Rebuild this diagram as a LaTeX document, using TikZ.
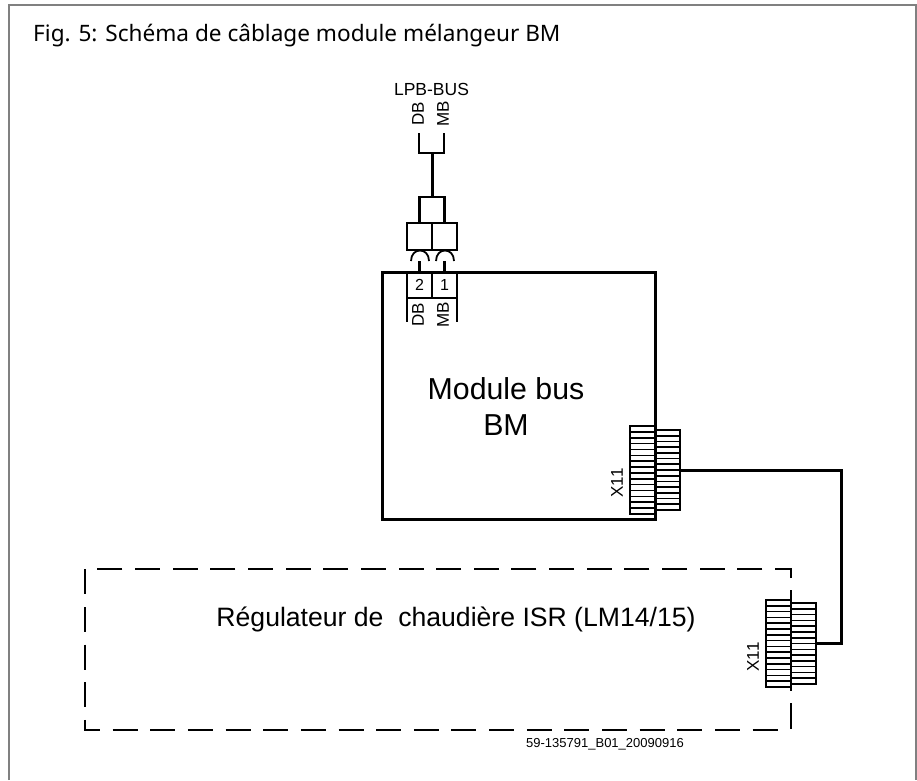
\documentclass[tikz,border=0pt]{standalone}
\usepackage{fontspec}
\setmainfont{Liberation Sans}
\newfontfamily\titlefont{Noto Sans}
\usetikzlibrary{calc}
\usetikzlibrary{positioning}
\tikzset{
  wire/.style={line width=3pt},
  boxed/.style={draw,line width=2.2pt,inner sep=0pt,outer sep=0pt},
  pinbox/.style={boxed,minimum width=25pt,minimum height=26pt},
  stripblock/.style={draw,line width=1.8pt,inner sep=0pt,outer sep=0pt,minimum width=25pt},
  labelsmall/.style={inner sep=0pt,font=\fontsize{17}{17}\selectfont},
}
\newcommand{\stripes}[2]{
  \foreach \i in {1,...,#2} {
    \draw[line width=1.6pt] ($(#1.north west)!\i/#2!(#1.south west)$) -- ($(#1.north east)!\i/#2!(#1.south east)$);
  }
}
\begin{document}
\begin{tikzpicture}[x=1pt,y=-1pt]
      \useasboundingbox (0,0) rectangle (917,780);
      \fill[white] (0,0) rectangle (917,780);
      % open frame
      \coordinate (framesw) at (9,780);
      \coordinate (framene) at (916,5);
      \coordinate (framese) at (916,780);
      \draw[black!50,line width=1.5pt] (framesw) |- (framene) -- (framese);
      \node (title) [anchor=base west,inner sep=0pt,font=\titlefont\fontsize{22.6}{22}\selectfont] at (33,41.5) {Fig. 5: Schéma de câblage module mélangeur BM};

      % X11 on the module
      \node (xa) [stripblock,minimum height=88pt,anchor=north east] at (655,426) {};
      \node (xb) [stripblock,minimum height=80pt,anchor=north west] at (655,430) {};
      \stripes{xa}{15}
      \stripes{xb}{14}
      \node (xalabel) [labelsmall,rotate=90] at (617,483) {X11};

      % module
      \node (module) [draw,line width=3pt,inner sep=0pt,minimum width=273pt,minimum height=247pt] at (518.5,395.5) {};
      \node (modulename) [align=center,font=\fontsize{30.3}{36}\selectfont,inner sep=0pt] at (506,407) {Module bus\\BM};

      % terminals in the module
      \node (pin2) [pinbox,anchor=north east] at (432,272) {\fontsize{16}{16}\selectfont 2};
      \node (pin1) [pinbox,right=0pt of pin2] {\fontsize{16}{16}\selectfont 1};
      \node (pindb) [labelsmall,rotate=90] at (418,315) {DB};
      \node (pinmb) [labelsmall,rotate=90] at (443,315) {MB};
      \coordinate (pin2end) at ($(pin2.south west)+(0,24)$);
      \coordinate (pin1end) at ($(pin1.south east)+(0,24)$);
      \draw[boxed] (pin2.south west) -- (pin2end);
      \draw[boxed] (pin1.south east) -- (pin1end);

      % plug
      \node (plug2) [pinbox,minimum height=27pt] at (419.5,236.5) {};
      \node (plug1) [pinbox,minimum height=27pt,right=0pt of plug2] {};
      \node (cap) [boxed,minimum width=25pt,minimum height=26pt] at (432,210) {};
      \draw[line width=1.8pt] (411,261) .. controls (411,247) and (429,247) .. (429,261);
      \draw[line width=1.8pt] (436,261) .. controls (436,247) and (454,247) .. (454,261);
      \draw[boxed] (pin2.north) -- +(0,-11);
      \draw[boxed] (pin1.north) -- +(0,-11);

      % bus
      \coordinate (busfork) at (432,153);
      \coordinate (busdb) at (419,133);
      \coordinate (busmb) at (444,133);
      \draw[wire] (cap.north) -- (busfork);
      \draw[boxed] (busdb) |- (busfork) -| (busmb);
      \node (buslabeldb) [labelsmall,rotate=90] at (418,114) {DB};
      \node (buslabelmb) [labelsmall,rotate=90] at (443,114) {MB};
      \node (buslabel) [inner sep=0pt,font=\fontsize{17.5}{17.5}\selectfont] at (431.5,89) {LPB-BUS};

      % controller
      \coordinate (ctrlstart) at (791,578);
      \coordinate (ctrlne) at (791,569);
      \coordinate (ctrlnw) at (85,569);
      \coordinate (ctrlsw) at (85,730);
      \coordinate (ctrlend) at (780,730);
      \coordinate (ctrlup) at (791,703);
      \coordinate (ctrldown) at (791,729);
      \draw[line width=1.8pt,dash pattern=on 25pt off 12.65pt] (ctrlstart) -- (ctrlne) -- (ctrlnw) -- (ctrlsw) -- (ctrlend);
      \draw[line width=1.8pt] (ctrlup) -- (ctrldown);
      \node (ctrlname) [inner sep=0pt,font=\fontsize{26.6}{26.6}\selectfont] at (456,619) {Régulateur de\ \ chaudière ISR (LM14/15)};
      \node (ctrlref) [anchor=base east,inner sep=0pt,font=\fontsize{13}{13}\selectfont] at (684,747) {59-135791\_B01\_20090916};

      % X11 on the controller
      \node (ya) [stripblock,minimum height=87pt,anchor=north east] at (791,600) {};
      \node (yb) [stripblock,minimum height=81pt,anchor=north west] at (791,603) {};
      \stripes{ya}{15}
      \stripes{yb}{14}
      \draw[boxed] (791,590) -- (791,691);
      \node (yalabel) [labelsmall,rotate=90] at (753,657) {X11};

      % cable
      \coordinate (cablecorner) at (841,470);
      \draw[wire] (xb.east) -- (cablecorner) |- (yb.east);
    \end{tikzpicture}
\end{document}
